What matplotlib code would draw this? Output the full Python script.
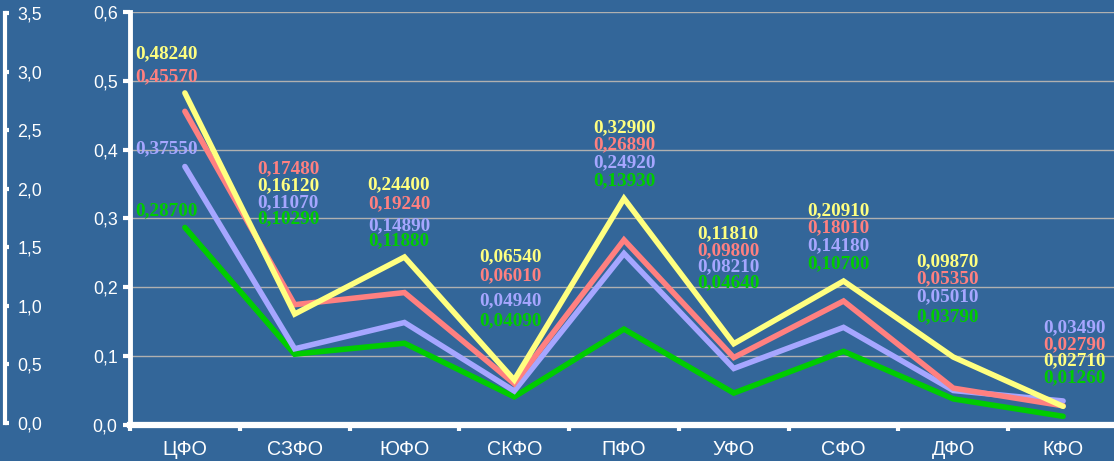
import matplotlib
matplotlib.use('Agg')
import matplotlib.pyplot as plt
from matplotlib.ticker import FuncFormatter, FixedLocator, MultipleLocator

districts = ['ЦФО', 'СЗФО', 'ЮФО', 'СКФО', 'ПФО', 'УФО', 'СФО', 'ДФО', 'КФО']

yellow_vals = [0.48240, 0.16120, 0.24400, 0.06540, 0.32900, 0.11810, 0.20910, 0.09870, 0.02710]
red_vals = [0.45570, 0.17480, 0.19240, 0.06010, 0.26890, 0.09800, 0.18010, 0.05350, 0.02790]
lilac_vals = [0.37550, 0.11070, 0.14890, 0.04940, 0.24920, 0.08210, 0.14180, 0.05010, 0.03490]
green_vals = [0.28700, 0.10290, 0.11880, 0.04090, 0.13930, 0.04640, 0.10700, 0.03790, 0.01260]

# where each value label sits (axis units)
yellow_lbl = [0.539, 0.347, 0.349, 0.244, 0.432, 0.278, 0.311, 0.237, 0.093]
red_lbl = [0.506, 0.372, 0.321, 0.217, 0.407, 0.253, 0.286, 0.212, 0.116]
lilac_lbl = [0.401, 0.323, 0.289, 0.180, 0.381, 0.230, 0.260, 0.186, 0.142]
green_lbl = [0.311, 0.299, 0.267, 0.151, 0.355, 0.206, 0.235, 0.158, 0.068]
lbl_dx = [-0.17, -0.06, -0.05, -0.03, 0.0, -0.05, -0.05, -0.05, 0.10]

BG = '#336699'
series = [
    (green_vals, green_lbl, '#00cc00'),
    (lilac_vals, lilac_lbl, '#a6a6ff'),
    (red_vals, red_lbl, '#ff8080'),
    (yellow_vals, yellow_lbl, '#ffff80'),
]

fig = plt.figure(figsize=(11.14, 4.61), dpi=100)
fig.patch.set_facecolor(BG)

comma = FuncFormatter(lambda v, p: f'{v:.1f}'.replace('.', ','))

ax = fig.add_axes([130 / 1114, 36 / 461, 988 / 1114, 413 / 461])
ax.set_facecolor(BG)
x = list(range(len(districts)))

for vals, lbls, col in series:
    ax.plot(x, vals, color=col, lw=4.0, solid_capstyle='round', solid_joinstyle='miter')

for vals, lbls, col in series:
    for i, (v, ly) in enumerate(zip(vals, lbls)):
        ax.text(i + lbl_dx[i], ly, f'{v:.5f}'.replace('.', ','), color=col,
                ha='center', va='center', fontsize=13.8, fontweight='bold',
                family='Liberation Serif')

ax.set_xlim(-0.5, len(districts) - 0.5)
ax.set_ylim(0, 0.6)
ax.yaxis.set_major_locator(MultipleLocator(0.1))
ax.yaxis.set_major_formatter(comma)
ax.grid(axis='y', color='#b0b0b0', lw=1)
ax.set_axisbelow(True)

ax.set_xticks(x)
ax.set_xticklabels(districts)
ax.xaxis.set_minor_locator(FixedLocator([i - 0.5 for i in range(len(districts) + 1)]))
ax.tick_params(axis='x', which='major', length=0, pad=11, labelsize=14.2, labelcolor='white')
ax.tick_params(axis='x', which='minor', length=4, width=3, color='white', direction='out')
ax.tick_params(axis='y', length=5, width=3, color='white', labelsize=12.8,
               labelcolor='white', pad=4)
for lab in ax.get_xticklabels() + ax.get_yticklabels():
    lab.set_family('Liberation Sans')

for s in ['top', 'right']:
    ax.spines[s].set_visible(False)
ax.spines['left'].set_color('white')
ax.spines['left'].set_linewidth(3.5)
ax.spines['bottom'].set_color('white')
ax.spines['bottom'].set_linewidth(4.5)

# outer scale on the far left
ax2 = fig.add_axes([4 / 1114, 38 / 461, 1 / 1114, 410 / 461])
ax2.patch.set_visible(False)
ax2.set_ylim(0, 3.5)
ax2.yaxis.set_major_locator(MultipleLocator(0.5))
ax2.yaxis.set_major_formatter(comma)
ax2.yaxis.set_ticks_position('right')
ax2.yaxis.set_label_position('right')
ax2.set_xticks([])
for s in ['top', 'left', 'bottom']:
    ax2.spines[s].set_visible(False)
ax2.spines['right'].set_color('white')
ax2.spines['right'].set_linewidth(3)
ax2.tick_params(axis='y', length=3, width=3, color='white', labelsize=12.8,
                labelcolor='white', pad=6)
for lab in ax2.get_yticklabels():
    lab.set_family('Liberation Sans')

fig.savefig('out.png', dpi=100, facecolor=BG)
